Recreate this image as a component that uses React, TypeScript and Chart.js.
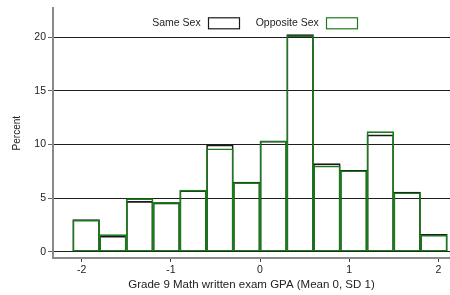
import { useEffect, useRef } from "react";
import { Chart, registerables } from "chart.js";

Chart.register(...registerables);

// Histogram bins (width 0.3), given by their centres
const binCenters = [-1.95, -1.65, -1.35, -1.05, -0.75, -0.45, -0.15, 0.15, 0.45, 0.75, 1.05, 1.35, 1.65, 1.95];
const sameSex = [3.0, 1.45, 4.7, 4.55, 5.7, 9.95, 6.5, 10.3, 20.25, 8.22, 7.6, 10.9, 5.55, 1.62];
const oppositeSex = [2.95, 1.6, 4.95, 4.6, 5.75, 9.6, 6.45, 10.35, 20.15, 8.0, 7.55, 11.2, 5.5, 1.55];
const seriesLabels = ["Same Sex", "Opposite Sex"];
const xTicks = [-2, -1, 0, 1, 2];
const yTicks = [0, 5, 10, 15, 20];
const xTitle = "Grade 9 Math written exam GPA (Mean 0, SD 1)";
const yTitle = "Percent";

const FONT = "'Liberation Sans', Arial, Helvetica, sans-serif";
const BLACK = "#1a1a1a";
const GREEN = "#1b7a1b";
const TEXT = "#222222";
const AXIS = "#8a8a8a";

const insideLegend = {
  id: "insideLegend",
  afterDraw(chart: any) {
    const ctx = chart.ctx;
    const area = chart.chartArea;
    const ds = chart.data.datasets;
    const boxW = 31;
    const boxH = 11;
    const gapText = 7;
    const gapItem = 17;
    ctx.save();
    ctx.font = `10.5px ${FONT}`;
    const textWidths = ds.map((d: any) => ctx.measureText(d.label).width);
    const widths = textWidths.map((w: number) => w + gapText + boxW);
    const total = widths.reduce((a: number, b: number) => a + b, 0) + gapItem * (ds.length - 1);
    let x = (area.left + area.right) / 2 - total / 2 + 3;
    const top = area.top + 9;
    ds.forEach((d: any, i: number) => {
      ctx.fillStyle = TEXT;
      ctx.textBaseline = "middle";
      ctx.textAlign = "left";
      ctx.fillText(d.label, x, top + boxH / 2 + 0.5);
      ctx.strokeStyle = d.borderColor;
      ctx.lineWidth = 1.2;
      ctx.strokeRect(Math.round(x + textWidths[i] + gapText) + 0.5, top + 0.5, boxW, boxH);
      x += widths[i] + gapItem;
    });
    ctx.restore();
  },
};

export default function App() {
  const canvasRef = useRef<HTMLCanvasElement | null>(null);

  useEffect(() => {
    document.body.style.margin = "0";
    const canvas = canvasRef.current;
    if (!canvas) return;
    const chart = new Chart(canvas, {
      type: "bar",
      data: {
        datasets: [
          {
            label: seriesLabels[0],
            data: binCenters.map((x, i) => ({ x, y: sameSex[i] })),
            backgroundColor: "rgba(0,0,0,0)",
            borderColor: BLACK,
            borderWidth: 1,
            borderSkipped: false,
            barPercentage: 1,
            categoryPercentage: 1,
            grouped: false,
            order: 1,
          },
          {
            label: seriesLabels[1],
            data: binCenters.map((x, i) => ({ x, y: oppositeSex[i] })),
            backgroundColor: "rgba(0,0,0,0)",
            borderColor: GREEN,
            borderWidth: 1,
            borderSkipped: false,
            barPercentage: 1,
            categoryPercentage: 1,
            grouped: false,
            order: 0,
          },
        ],
      } as any,
      options: {
        animation: false,
        responsive: false,
        devicePixelRatio: 1,
        layout: { padding: { top: 8, left: 0, right: 0, bottom: 0 } },
        plugins: {
          legend: { display: false },
          tooltip: { enabled: false },
        },
        scales: {
          x: {
            type: "linear",
            min: -2.322,
            max: 2.131,
            offset: false,
            afterBuildTicks: (axis: any) => {
              axis.ticks = xTicks.map((v) => ({ value: v }));
            },
            afterFit: (scale: any) => {
              scale.height = 37;
            },
            grid: {
              offset: false,
              drawOnChartArea: false,
              drawTicks: true,
              tickLength: 4,
              color: "#444",
              lineWidth: 1,
            },
            border: { display: true, color: AXIS, width: 2 },
            ticks: {
              font: { family: FONT, size: 10.5 },
              color: TEXT,
              padding: 2,
              maxRotation: 0,
              autoSkip: false,
            },
            title: {
              display: true,
              text: xTitle,
              font: { family: FONT, size: 11.5 },
              color: TEXT,
              padding: { top: 0, bottom: 3 },
            },
          },
          y: {
            type: "linear",
            min: -0.586,
            max: 22.7,
            afterBuildTicks: (axis: any) => {
              axis.ticks = yTicks.map((v) => ({ value: v }));
            },
            afterFit: (scale: any) => {
              scale.width = 53;
            },
            grid: {
              drawOnChartArea: true,
              drawTicks: true,
              tickLength: 5,
              color: "#1e1e1e",
              tickColor: "#666",
              lineWidth: 1,
            },
            border: { display: true, color: AXIS, width: 2 },
            ticks: {
              font: { family: FONT, size: 10.5 },
              color: TEXT,
              padding: 2,
              autoSkip: false,
            },
            title: {
              display: true,
              text: yTitle,
              font: { family: FONT, size: 10 },
              color: TEXT,
              padding: { top: 11, bottom: 0 },
            },
          },
        },
      } as any,
      plugins: [insideLegend],
    });
    return () => chart.destroy();
  }, []);

  return (
    <div style={{ width: 450, height: 295, background: "#fff" }}>
      <canvas ref={canvasRef} width={450} height={295} style={{ display: "block" }} />
    </div>
  );
}
